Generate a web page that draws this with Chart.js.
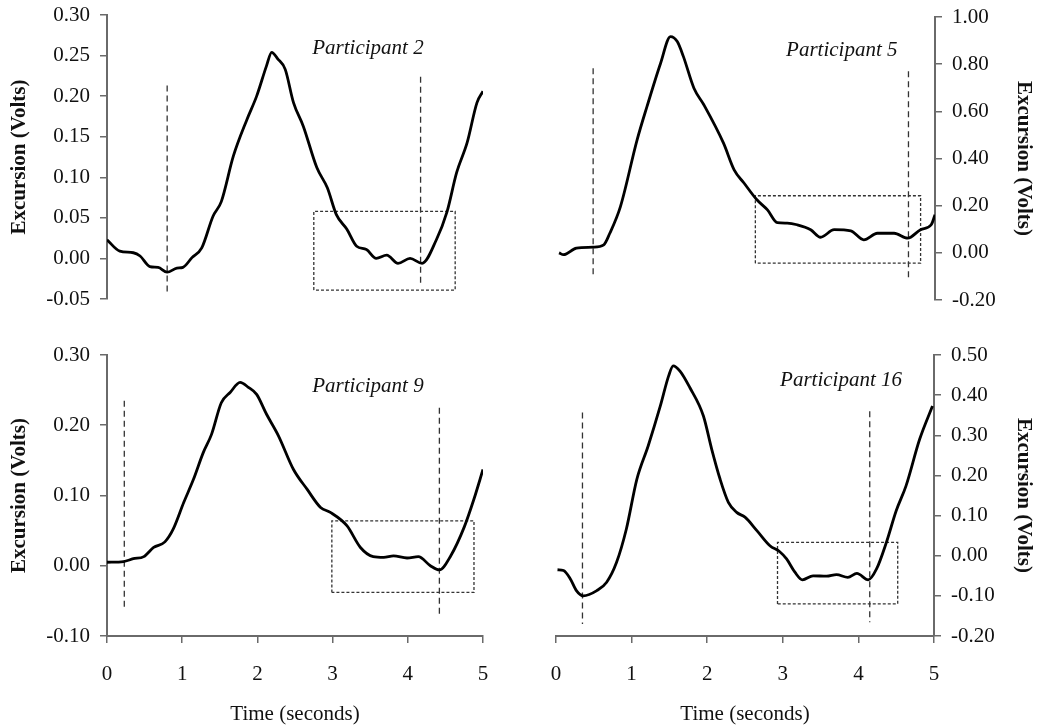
<!DOCTYPE html>
<html>
<head>
<meta charset="utf-8">
<script src="https://cdn.jsdelivr.net/npm/chart.js@4/dist/chart.umd.min.js"></script>
<style>
  html, body { margin: 0; padding: 0; background: #fff; overflow: hidden; }
  #wrap { position: relative; width: 1039px; height: 727px; background: #fff; overflow: hidden; }
  canvas { position: absolute; }
</style>
</head>
<body>
<div id="wrap">
  <canvas id="c2" width="520" height="340" style="left:0;top:-10px"></canvas>
  <canvas id="c5" width="519" height="340" style="left:520px;top:-10px"></canvas>
  <canvas id="c9" width="520" height="397" style="left:0;top:330px"></canvas>
  <canvas id="c16" width="519" height="397" style="left:520px;top:330px"></canvas>
</div>
<script>
// ---------- DATA ----------
const xTicks = [0, 1, 2, 3, 4, 5];

// Participant 2
const p2Time  = [0, 0.17, 0.35, 0.44, 0.57, 0.68, 0.80, 0.93, 1.01, 1.13, 1.26, 1.41, 1.52, 1.68, 1.86, 1.99, 2.12, 2.19, 2.27, 2.37, 2.48, 2.61, 2.79, 2.93, 3.05, 3.19, 3.32, 3.45, 3.58, 3.72, 3.87, 4.03, 4.19, 4.38, 4.52, 4.65, 4.79, 4.92, 5.0];
const p2Volts = [0.023, 0.009, 0.007, 0.003, -0.010, -0.011, -0.017, -0.012, -0.011, 0.001, 0.013, 0.052, 0.070, 0.126, 0.171, 0.200, 0.237, 0.254, 0.246, 0.233, 0.192, 0.163, 0.112, 0.087, 0.054, 0.036, 0.015, 0.011, 0.000, 0.004, -0.006, 0.000, -0.006, 0.023, 0.057, 0.106, 0.143, 0.192, 0.206];
const p2Ticks = [-0.05, 0, 0.05, 0.10, 0.15, 0.20, 0.25, 0.30];
const p2MarkTime = [0.80, 4.17];
const p2MarkTop = [0.213, 0.224];
const p2MarkBottom = [-0.044, -0.034];
const p2Box = [2.75, 4.63, -0.039, 0.058];

// Participant 5
const p5Time  = [0.04, 0.10, 0.27, 0.49, 0.63, 0.71, 0.85, 1.07, 1.20, 1.38, 1.51, 1.60, 1.68, 1.82, 1.95, 2.21, 2.35, 2.48, 2.65, 2.79, 2.92, 3.05, 3.18, 3.36, 3.49, 3.67, 3.89, 4.06, 4.24, 4.46, 4.64, 4.81, 4.95, 5.0];
const p5Volts = [0.0, -0.008, 0.020, 0.024, 0.034, 0.083, 0.196, 0.479, 0.620, 0.804, 0.917, 0.896, 0.833, 0.698, 0.628, 0.465, 0.352, 0.296, 0.225, 0.182, 0.128, 0.126, 0.119, 0.098, 0.066, 0.098, 0.093, 0.055, 0.083, 0.083, 0.062, 0.098, 0.119, 0.161];
const p5Ticks = [-0.2, 0, 0.2, 0.4, 0.6, 0.8, 1.0];
const p5MarkTime = [0.49, 4.65];
const p5MarkTop = [0.783, 0.77];
const p5MarkBottom = [-0.10, -0.115];
const p5Box = [2.63, 4.81, -0.044, 0.242];

// Participant 9
const p9Time  = [0, 0.22, 0.35, 0.49, 0.62, 0.77, 0.88, 1.02, 1.15, 1.28, 1.39, 1.52, 1.64, 1.77, 1.88, 1.99, 2.12, 2.28, 2.48, 2.66, 2.84, 2.97, 3.19, 3.37, 3.54, 3.68, 3.81, 3.99, 4.14, 4.30, 4.42, 4.57, 4.75, 4.88, 5.0];
const p9Volts = [0.005, 0.006, 0.010, 0.013, 0.026, 0.034, 0.052, 0.090, 0.123, 0.161, 0.187, 0.232, 0.247, 0.261, 0.254, 0.244, 0.216, 0.185, 0.137, 0.109, 0.083, 0.076, 0.057, 0.026, 0.013, 0.012, 0.014, 0.011, 0.013, 0.000, -0.006, 0.014, 0.055, 0.095, 0.137];
const p9Ticks = [-0.1, 0, 0.1, 0.2, 0.3];
const p9MarkTime = [0.23, 4.42];
const p9MarkTop = [0.235, 0.225];
const p9MarkBottom = [-0.064, -0.072];
const p9Box = [2.99, 4.88, -0.038, 0.064];

// Participant 16
const p16Time  = [0.02, 0.10, 0.19, 0.27, 0.36, 0.54, 0.67, 0.80, 0.93, 1.07, 1.22, 1.38, 1.49, 1.55, 1.64, 1.77, 1.95, 2.06, 2.17, 2.28, 2.39, 2.50, 2.66, 2.83, 2.96, 3.05, 3.16, 3.26, 3.40, 3.58, 3.71, 3.86, 3.98, 4.13, 4.24, 4.37, 4.50, 4.63, 4.81, 4.98];
const p16Volts = [-0.035, -0.037, -0.058, -0.087, -0.100, -0.087, -0.066, -0.017, 0.066, 0.191, 0.274, 0.373, 0.448, 0.473, 0.460, 0.419, 0.348, 0.265, 0.191, 0.133, 0.108, 0.096, 0.062, 0.025, 0.010, -0.008, -0.041, -0.060, -0.050, -0.051, -0.047, -0.054, -0.044, -0.060, -0.033, 0.033, 0.112, 0.174, 0.290, 0.373];
const p16Ticks = [-0.2, -0.1, 0, 0.1, 0.2, 0.3, 0.4, 0.5];
const p16MarkTime = [0.35, 4.15];
const p16MarkTop = [0.357, 0.36];
const p16MarkBottom = [-0.17, -0.166];
const p16Box = [2.93, 4.52, -0.12, 0.033];

// ---------- DRAWING ----------
const FONT = "'Liberation Serif', 'Times New Roman', Times, serif";
const AXIS = '#6a6a6a';
const FS = 21;

const panelLabel = {
  id: 'panelLabel',
  afterDatasetsDraw(chart, args, opts) {
    const {ctx, scales} = chart;
    ctx.save();
    ctx.font = 'italic ' + FS + 'px ' + FONT;
    ctx.fillStyle = '#111';
    ctx.textAlign = 'center';
    ctx.textBaseline = 'middle';
    ctx.fillText(opts.text, scales.x.getPixelForValue(opts.x), scales.y.getPixelForValue(opts.y));
    ctx.restore();
  }
};

function makePanel(id, o) {
  const curve = o.time.map((t, i) => ({x: t, y: o.volts[i]}));
  const datasets = [{
    data: curve, borderColor: '#000', borderWidth: 2.8, pointRadius: 0,
    cubicInterpolationMode: 'monotone', fill: false
  }];
  o.markTime.forEach((t, i) => {
    datasets.push({
      data: [{x: t, y: o.markTop[i]}, {x: t, y: o.markBottom[i]}],
      borderColor: '#333', borderWidth: 1.3, borderDash: [6, 4], pointRadius: 0, fill: false
    });
  });
  const b = o.box;
  datasets.push({
    data: [{x: b[0], y: b[2]}, {x: b[0], y: b[3]}, {x: b[1], y: b[3]}, {x: b[1], y: b[2]}, {x: b[0], y: b[2]}],
    borderColor: '#333', borderWidth: 1.3, borderDash: [3, 2], pointRadius: 0, fill: false
  });

  return new Chart(document.getElementById(id), {
    type: 'line',
    data: {datasets},
    plugins: [panelLabel],
    options: {
      responsive: false, animation: false,
      layout: {padding: o.padding},
      plugins: {
        legend: {display: false}, tooltip: {enabled: false}, title: {display: false},
        panelLabel: {text: o.label, x: o.labelAt[0], y: o.labelAt[1]}
      },
      scales: {
        x: {
          type: 'linear', min: 0, max: 5, display: o.showX, position: 'bottom',
          afterBuildTicks: s => { s.ticks = xTicks.map(v => ({value: v})); },
          afterFit: s => { if (o.showX) s.height = 91; },
          grid: {drawOnChartArea: false, drawTicks: true, tickLength: 7, color: AXIS, lineWidth: 1.5},
          border: {display: true, color: AXIS, width: 2},
          ticks: {font: {family: FONT, size: FS}, color: '#111', padding: 19, maxRotation: 0, autoSkip: false},
          title: {display: true, text: 'Time (seconds)', font: {family: FONT, size: FS}, color: '#111', padding: {top: 0, bottom: 0}}
        },
        y: {
          type: 'linear', min: o.ticks[0], max: o.ticks[o.ticks.length - 1], position: o.yPos,
          afterBuildTicks: s => { s.ticks = o.ticks.map(v => ({value: v})); },
          afterFit: s => { s.width = o.yWidth; },
          grid: {drawOnChartArea: false, drawTicks: true, tickLength: 7, color: AXIS, lineWidth: 1.5},
          border: {display: true, color: AXIS, width: 2},
          ticks: {font: {family: FONT, size: FS}, color: '#111', padding: 10, autoSkip: false, callback: v => Number(v).toFixed(2)},
          title: {display: true, text: 'Excursion (Volts)', font: {family: FONT, size: FS, weight: 'bold'}, color: '#111', padding: {top: o.yTitlePad, bottom: 0}}
        }
      }
    }
  });
}

makePanel('c2', {
  time: p2Time, volts: p2Volts, ticks: p2Ticks, markTime: p2MarkTime, markTop: p2MarkTop, markBottom: p2MarkBottom, box: p2Box,
  label: 'Participant 2', labelAt: [3.47, 0.259], showX: false, yPos: 'left', yWidth: 107, yTitlePad: 7.4,
  padding: {left: 0, right: 37, top: 25, bottom: 31}
});
makePanel('c5', {
  time: p5Time, volts: p5Volts, ticks: p5Ticks, markTime: p5MarkTime, markTop: p5MarkTop, markBottom: p5MarkBottom, box: p5Box,
  label: 'Participant 5', labelAt: [3.77, 0.857], showX: false, yPos: 'right', yWidth: 104, yTitlePad: 3.4,
  padding: {left: 36, right: 0, top: 27, bottom: 30}
});
makePanel('c9', {
  time: p9Time, volts: p9Volts, ticks: p9Ticks, markTime: p9MarkTime, markTop: p9MarkTop, markBottom: p9MarkBottom, box: p9Box,
  label: 'Participant 9', labelAt: [3.47, 0.255], showX: true, yPos: 'left', yWidth: 107, yTitlePad: 7.4,
  padding: {left: 0, right: 37, top: 25, bottom: 0}
});
makePanel('c16', {
  time: p16Time, volts: p16Volts, ticks: p16Ticks, markTime: p16MarkTime, markTop: p16MarkTop, markBottom: p16MarkBottom, box: p16Box,
  label: 'Participant 16', labelAt: [3.77, 0.437], showX: true, yPos: 'right', yWidth: 105, yTitlePad: 3.4,
  padding: {left: 36, right: 0, top: 25, bottom: 0}
});
</script>
</body>
</html>
